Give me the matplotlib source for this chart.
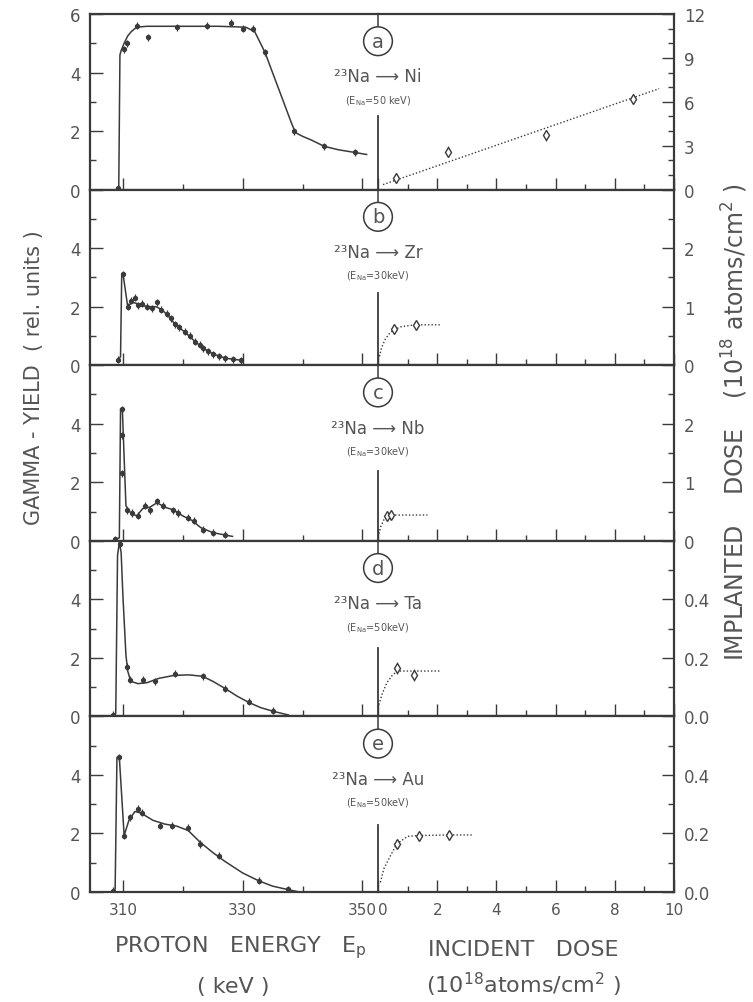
import matplotlib
matplotlib.use("Agg")
import matplotlib.pyplot as plt
import matplotlib.transforms as mtransforms
from matplotlib import font_manager

# --- data -------------------------------------------------------------------
# (a) 23Na -> Ni, E_Na = 50 keV
a_e_pts = [309.2, 310.2, 310.6, 312.3, 314.2, 319.1, 324.1, 328.0, 330.0, 331.7, 333.7, 338.6, 343.6, 348.7]
a_g_pts = [0.05, 4.8, 5.0, 5.6, 5.2, 5.55, 5.6, 5.7, 5.5, 5.5, 4.7, 2.0, 1.48, 1.27]
a_e_fit = [309.3, 309.5, 309.7, 310.2, 310.8, 311.4, 312.3, 314.0, 320.0, 326.0, 330.5, 332.0, 333.7, 335.9, 338.1, 338.8, 340.0, 341.4, 343.6, 346.0, 348.7, 350.7]
a_g_fit = [0.0, 4.6, 4.75, 5.0, 5.25, 5.4, 5.55, 5.58, 5.58, 5.58, 5.55, 5.4, 4.7, 3.5, 2.3, 1.95, 1.82, 1.7, 1.48, 1.36, 1.27, 1.2]
a_d_pts = [0.61, 2.35, 5.67, 8.6]
a_i_pts = [0.78, 2.6, 3.7, 6.2]
a_d_fit = [0.17, 9.5]
a_i_fit = [0.34, 6.9]

# (b) 23Na -> Zr, E_Na = 30 keV
b_e_pts = [309.2, 310.0, 310.8, 311.4, 312.0, 312.6, 313.2, 314.1, 314.9, 315.7, 316.4, 317.4, 318.0, 318.7,
           319.4, 320.4, 321.2, 322.1, 322.8, 323.4, 324.2, 325.1, 326.0, 327.1, 328.3, 329.7]
b_g_pts = [0.18, 3.1, 2.0, 2.2, 2.3, 2.05, 2.1, 2.0, 1.95, 2.15, 1.9, 1.75, 1.6, 1.4,
           1.3, 1.15, 1.0, 0.8, 0.7, 0.58, 0.47, 0.38, 0.3, 0.24, 0.2, 0.17]
b_e_fit = [309.2, 309.6, 309.8, 310.1, 310.8, 311.5, 312.5, 314.0, 315.5, 316.5, 317.5, 318.7, 320.4, 322.1, 323.4, 325.1, 327.1, 329.7]
b_g_fit = [0.15, 0.3, 3.1, 3.0, 2.0, 2.15, 2.1, 2.0, 2.0, 1.9, 1.7, 1.4, 1.12, 0.8, 0.58, 0.38, 0.24, 0.17]
b_d_pts = [0.55, 1.27]
b_i_pts = [0.61, 0.69]
b_d_fit = [0.05, 0.12, 0.25, 0.4, 0.55, 0.8, 1.27, 2.1]
b_i_fit = [0.15, 0.3, 0.45, 0.55, 0.61, 0.66, 0.69, 0.69]

# (c) 23Na -> Nb, E_Na = 30 keV
c_e_pts = [308.7, 309.8, 309.8, 309.8, 310.7, 311.5, 312.5, 313.7, 314.5, 315.7, 316.7, 318.4, 319.2, 320.8, 321.8, 323.4, 325.1, 327.1]
c_g_pts = [0.05, 2.3, 3.6, 4.5, 1.05, 0.95, 0.85, 1.2, 1.05, 1.35, 1.2, 1.05, 0.95, 0.78, 0.68, 0.38, 0.27, 0.2]
c_e_fit = [308.7, 309.4, 309.6, 309.9, 310.5, 311.3, 312.3, 313.3, 314.5, 315.7, 317.0, 318.5, 320.0, 321.5, 323.0, 325.0, 327.0, 328.3]
c_g_fit = [0.05, 0.1, 4.5, 4.5, 1.2, 0.95, 0.85, 1.1, 1.15, 1.3, 1.15, 1.05, 0.85, 0.7, 0.45, 0.28, 0.2, 0.15]
c_d_pts = [0.31, 0.43]
c_i_pts = [0.42, 0.44]
c_d_fit = [0.03, 0.1, 0.2, 0.31, 0.45, 1.0, 1.67]
c_i_fit = [0.12, 0.25, 0.36, 0.42, 0.44, 0.44, 0.44]

# (d) 23Na -> Ta, E_Na = 50 keV
d_e_pts = [308.3, 309.5, 310.7, 311.2, 313.4, 315.4, 318.7, 323.3, 327.1, 331.0, 335.0]
d_g_pts = [0.05, 5.9, 1.7, 1.25, 1.25, 1.2, 1.45, 1.37, 0.95, 0.5, 0.2]
d_e_fit = [308.3, 308.8, 309.1, 309.4, 309.7, 310.0, 310.5, 310.8, 311.3, 312.5, 314.0, 316.0, 318.5, 321.0, 323.3,
           325.0, 327.1, 329.0, 331.0, 333.0, 335.0, 337.6]
d_g_fit = [0.03, 0.1, 5.5, 5.95, 5.6, 4.1, 2.1, 1.55, 1.2, 1.12, 1.15, 1.3, 1.4, 1.42, 1.37,
           1.2, 0.95, 0.7, 0.48, 0.3, 0.18, 0.05]
d_d_pts = [0.65, 1.22]
d_i_pts = [0.165, 0.142]
d_d_fit = [0.03, 0.15, 0.3, 0.48, 0.65, 1.0, 1.22, 2.1]
d_i_fit = [0.04, 0.08, 0.115, 0.14, 0.155, 0.155, 0.155, 0.155]

# (e) 23Na -> Au, E_Na = 50 keV
e_e_pts = [308.3, 309.3, 310.2, 311.2, 312.5, 313.2, 316.2, 318.2, 320.9, 322.9, 326.0, 332.7, 337.6]
e_g_pts = [0.05, 4.6, 1.93, 2.55, 2.85, 2.7, 2.27, 2.27, 2.2, 1.64, 1.24, 0.38, 0.1]
e_e_fit = [308.3, 308.7, 309.0, 309.4, 310.2, 311.0, 312.0, 313.0, 315.0, 317.0, 319.0, 320.9, 322.9, 325.0,
           327.0, 330.0, 332.7, 335.0, 337.6, 339.5]
e_g_fit = [0.03, 0.1, 4.6, 4.6, 1.93, 2.45, 2.75, 2.7, 2.45, 2.32, 2.25, 2.1, 1.7, 1.35,
           1.05, 0.65, 0.38, 0.2, 0.08, 0.0]
e_d_pts = [0.64, 1.39, 2.4]
e_i_pts = [0.165, 0.193, 0.195]
e_d_fit = [0.08, 0.2, 0.42, 0.64, 1.0, 1.39, 2.4, 3.18]
e_i_fit = [0.033, 0.08, 0.124, 0.165, 0.19, 0.193, 0.195, 0.195]

letters = ["a", "b", "c", "d", "e"]
targets = ["Ni", "Zr", "Nb", "Ta", "Au"]
na_energy = ["50 keV", "30keV", "30keV", "50keV", "50keV"]
dose_top = [12, 3, 3, 0.6, 0.6]
dose_ticks = [[0, 3, 6, 9, 12], [0, 1, 2, 3], [0, 1, 2, 3], [0, 0.2, 0.4, 0.6], [0, 0.2, 0.4, 0.6]]
dose_labels = [["0", "3", "6", "9", "12"], ["0", "1", "2", ""], ["0", "1", "2", ""],
               ["0.0", "0.2", "0.4", ""], ["0.0", "0.2", "0.4", ""]]
dose_minor = [1, 0.5, 0.5, 0.1, 0.1]
dose_err = [0.35, 0.04, 0.03, 0.02, 0.012]
sep_height = [0.42, 0.41, 0.40, 0.39, 0.38]

panels = [
    (a_e_pts, a_g_pts, a_e_fit, a_g_fit, a_d_pts, a_i_pts, a_d_fit, a_i_fit),
    (b_e_pts, b_g_pts, b_e_fit, b_g_fit, b_d_pts, b_i_pts, b_d_fit, b_i_fit),
    (c_e_pts, c_g_pts, c_e_fit, c_g_fit, c_d_pts, c_i_pts, c_d_fit, c_i_fit),
    (d_e_pts, d_g_pts, d_e_fit, d_g_fit, d_d_pts, d_i_pts, d_d_fit, d_i_fit),
    (e_e_pts, e_g_pts, e_e_fit, e_g_fit, e_d_pts, e_i_pts, e_d_fit, e_i_fit),
]

# --- style -----------------------------------------------------------------
names = {f.name for f in font_manager.fontManager.ttflist}
base = "Liberation Sans Narrow" if "Liberation Sans Narrow" in names else "DejaVu Sans"
plt.rcParams["font.family"] = [base, "DejaVu Sans"]
plt.rcParams["mathtext.fontset"] = "custom"
plt.rcParams["mathtext.rm"] = base
plt.rcParams["mathtext.it"] = base
plt.rcParams["mathtext.default"] = "regular"

ink = "#3a3a3a"
txt = "#555555"

W, H = 753, 1003
x0, xs, x1 = 90, 378, 674
top, bot = 15, 893
ph = (bot - top) / 5

fig = plt.figure(figsize=(W / 100, H / 100), dpi=100)

for i, (ep, gp, ef, gf, dp, ip, df, if_) in enumerate(panels):
    yb = top + (i + 1) * ph
    axL = fig.add_axes([x0 / W, 1 - yb / H, (xs - x0) / W, ph / H])
    axR = fig.add_axes([xs / W, 1 - yb / H, (x1 - xs) / W, ph / H])

    # energy side
    axL.plot(ef, gf, color=ink, lw=1.1)
    axL.errorbar(ep, gp, yerr=0.12, fmt="o", ms=2.8, color=ink, elinewidth=0.9, capsize=0)
    axL.set_xlim(304.5, 352.6)
    axL.set_ylim(0, 6)
    axL.set_xticks([310, 330, 350])
    axL.set_xticks([320, 340], minor=True)
    axL.set_yticks([0, 2, 4, 6])
    axL.set_yticks([1, 3, 5], minor=True)
    axL.set_yticklabels(["0", "2", "4", "6" if i == 0 else ""])
    axL.spines["right"].set_visible(False)
    axL.tick_params(which="both", direction="in", color=ink, labelcolor=txt, labelsize=12,
                    top=False, right=False, width=1.0)
    axL.tick_params(which="major", length=9, pad=7)
    axL.tick_params(which="minor", length=4)
    axL.tick_params(axis="x", labelsize=11)
    if i < 4:
        axL.tick_params(axis="x", labelbottom=False)

    # dose side
    axR.plot(df, if_, color=ink, lw=1.0, ls=(0, (1, 1.5)))
    axR.errorbar(dp, ip, yerr=dose_err[i], fmt="d", ms=5.5, mfc="white", mec=ink, color=ink,
                 elinewidth=0.8, capsize=0)
    axR.set_xlim(0, 10)
    axR.set_ylim(0, dose_top[i])
    axR.set_xticks([0, 2, 4, 6, 8, 10])
    axR.set_xticks([1, 3, 5, 7, 9], minor=True)
    axR.set_yticks(dose_ticks[i])
    axR.set_yticklabels(dose_labels[i])
    axR.yaxis.set_minor_locator(matplotlib.ticker.MultipleLocator(dose_minor[i]))
    axR.spines["left"].set_visible(False)
    axR.yaxis.tick_right()
    axR.tick_params(which="both", direction="in", color=ink, labelcolor=txt, labelsize=12,
                    top=False, left=False, width=1.0)
    axR.tick_params(which="major", length=9, pad=7)
    axR.tick_params(which="minor", length=4)
    axR.tick_params(axis="x", labelsize=11)
    if i < 4:
        axR.tick_params(axis="x", labelbottom=False)
    else:
        # keep the dose "0" clear of the "350" next to it
        axR.get_xticklabels()[0].set_horizontalalignment("left")

    for ax in (axL, axR):
        for s in ax.spines.values():
            s.set_color(ink)
            s.set_linewidth(1.6)

    # separator line and panel label
    trans = mtransforms.blended_transform_factory(axR.transData, axR.transAxes)
    axR.axvline(0, ymin=0, ymax=sep_height[i], color=ink, lw=1.3, clip_on=False)
    axR.axvline(0, ymin=0.92, ymax=1, color=ink, lw=1.1, clip_on=False)
    axR.text(0, 0.845, letters[i], transform=trans, ha="center", va="center", fontsize=14,
             color=txt, bbox=dict(boxstyle="circle,pad=0.25", fc="white", ec=ink, lw=1.1))
    axR.text(0, 0.645, "²³Na ⟶ " + targets[i], transform=trans, ha="center", va="center",
             fontsize=12, color=txt, clip_on=False)
    axR.text(0, 0.51, "(E$_{Na}$=" + na_energy[i] + ")", transform=trans, ha="center",
             va="center", fontsize=7, color=txt, clip_on=False)

# axis titles
fig.text(34 / W, 1 - 378 / H, "GAMMA - YIELD  ( rel. units )", rotation=90, ha="center",
         va="center", fontsize=15, color=txt)
fig.text(735 / W, 1 - 422 / H, "IMPLANTED    DOSE    (10$^{18}$ atoms/cm$^{2}$ )", rotation=90,
         ha="center", va="center", fontsize=17, color=txt)
fig.text(240 / W, 1 - 948 / H, "PROTON   ENERGY   E$_p$", ha="center", va="center",
         fontsize=16, color=txt)
fig.text(233 / W, 1 - 987 / H, "( keV )", ha="center", va="center", fontsize=16, color=txt)
fig.text(523 / W, 1 - 950 / H, "INCIDENT   DOSE", ha="center", va="center", fontsize=16, color=txt)
fig.text(523 / W, 1 - 985 / H, "(10$^{18}$atoms/cm$^{2}$ )", ha="center", va="center",
         fontsize=16, color=txt)

fig.savefig("out.png", dpi=100)
